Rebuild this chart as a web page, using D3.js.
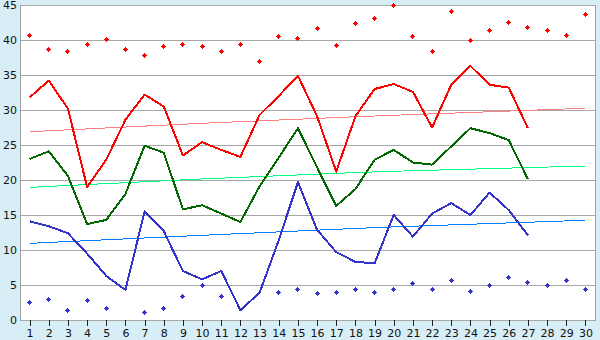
<!DOCTYPE html>
<html>
<head>
<meta charset="utf-8">
<script src="https://cdn.jsdelivr.net/npm/d3@7/dist/d3.min.js"></script>
<style>
  html, body { margin: 0; padding: 0; background: #d8eef6; }
  svg { display: block; }
  .axis text { font-family: "DejaVu Sans", Verdana, sans-serif; font-size: 11px; fill: #111; }
</style>
</head>
<body>
<svg id="chart" width="600" height="340"></svg>
<script>
// Category labels along the bottom axis
const categories = [1, 2, 3, 4, 5, 6, 7, 8, 9, 10, 11, 12, 13, 14, 15,
                    16, 17, 18, 19, 20, 21, 22, 23, 24, 25, 26, 27, 28, 29, 30];
const yTicks = [0, 5, 10, 15, 20, 25, 30, 35, 40, 45];

// Line series (days 1–27)
const redLine   = [31.8, 34.2, 30.2, 19.0, 22.9, 28.6, 32.2, 30.5, 23.5, 25.4, 24.3, 23.3, 29.3, 32.0,
                   34.9, 29.1, 21.2, 29.1, 33.0, 33.7, 32.6, 27.5, 33.6, 36.3, 33.6, 33.2, 27.4];
const greenLine = [23.0, 24.1, 20.6, 13.7, 14.3, 18.0, 24.9, 23.9, 15.8, 16.4, 15.2, 14.0, 19.1, 23.2,
                   27.4, 21.8, 16.3, 18.7, 22.9, 24.3, 22.5, 22.2, 24.8, 27.4, 26.7, 25.7, 20.1];
const blueLine  = [14.1, 13.4, 12.4, 9.5, 6.3, 4.3, 15.5, 12.7, 7.0, 5.8, 7.0, 1.4, 3.9, 11.4,
                   19.7, 12.9, 9.7, 8.3, 8.1, 15.0, 11.9, 15.2, 16.7, 15.0, 18.2, 15.7, 12.1];

// Point series (days 1–30, null = no reading)
const redPoints  = [40.7, 38.7, 38.4, 39.4, 40.1, 38.7, 37.8, 39.0, 39.4, 39.0, 38.4, 39.4, 37.0, 40.5, 40.2,
                    41.7, 39.2, 42.4, 43.0, 45.0, 40.5, 38.4, 44.1, 40.0, 41.4, 42.5, 41.8, 41.4, 40.7, 43.7];
const bluePoints = [2.5, 3.0, 1.3, 2.8, 1.7, null, 1.1, 1.7, 3.4, 5.0, 3.4, null, null, 4.0, 4.4,
                    3.8, 4.0, 4.4, 4.0, 4.4, 5.2, 4.4, 5.7, 4.1, 5.0, 6.1, 5.4, 5.0, 5.7, 4.4];

// Trend curves, sampled at a few days
const trendDays  = [1, 10, 20, 30];
const redTrend   = [26.9, 28.1, 29.25, 30.25];
const greenTrend = [18.95, 20.15, 21.25, 22.0];
const blueTrend  = [10.95, 12.1, 13.3, 14.25];

const plotLeft = 20, plotRight = 595, plotTop = 5, plotBottom = 320;
const svg = d3.select("#chart");

const x = d3.scalePoint().domain(categories).range([plotLeft, plotRight]).padding(0.5);
const y = d3.scaleLinear().domain([0, 45]).range([plotBottom, plotTop]);

// plot area
svg.append("rect")
  .attr("x", plotLeft).attr("y", plotTop)
  .attr("width", plotRight - plotLeft).attr("height", plotBottom - plotTop)
  .attr("fill", "#fff").attr("stroke", "#a0a0a0")
  .attr("shape-rendering", "crispEdges");

// y axis with gridlines
const gy = svg.append("g").attr("class", "axis")
  .attr("transform", `translate(${plotLeft},0)`)
  .call(d3.axisLeft(y).tickValues(yTicks).tickSize(-(plotRight - plotLeft)).tickPadding(3));
gy.select(".domain").remove();
gy.selectAll(".tick line").attr("stroke", "#a8a8a8").attr("shape-rendering", "crispEdges");

// x axis
const gx = svg.append("g").attr("class", "axis")
  .attr("transform", `translate(0,${plotBottom})`)
  .call(d3.axisBottom(x).tickSize(6).tickSizeOuter(0).tickPadding(3));
gx.select(".domain").remove();
gx.selectAll(".tick line").attr("stroke", "#222").attr("shape-rendering", "crispEdges");

// left axis line
svg.append("line")
  .attr("x1", plotLeft).attr("x2", plotLeft).attr("y1", plotTop).attr("y2", plotBottom)
  .attr("stroke", "#a0a0a0").attr("shape-rendering", "crispEdges");

// trend curves
const trendGen = d3.line()
  .x((d, i) => x(trendDays[i]))
  .y(d => y(d))
  .curve(d3.curveNatural);
[[redTrend, "#ff8080"], [greenTrend, "#00ff80"], [blueTrend, "#0080ff"]].forEach(([vals, col]) => {
  svg.append("path").datum(vals)
    .attr("d", trendGen)
    .attr("fill", "none").attr("stroke", col).attr("stroke-width", 1)
    .attr("shape-rendering", "crispEdges");
});

// main lines
const lineGen = d3.line()
  .x((d, i) => x(categories[i]))
  .y(d => y(d));
[[redLine, "#ff0000"], [greenLine, "#006600"], [blueLine, "#3333cc"]].forEach(([vals, col]) => {
  svg.append("path").datum(vals)
    .attr("d", lineGen)
    .attr("fill", "none").attr("stroke", col).attr("stroke-width", 2)
    .attr("stroke-linejoin", "round")
    .attr("shape-rendering", "crispEdges");
});

// small pixel-style cross marker: 3x3 core with 1px arms
const crossMarker = {
  draw(ctx) {
    const pts = [[-0.5,-2.5],[0.5,-2.5],[0.5,-1.5],[1.5,-1.5],[1.5,-0.5],[2.5,-0.5],[2.5,0.5],
                 [1.5,0.5],[1.5,1.5],[0.5,1.5],[0.5,2.5],[-0.5,2.5],[-0.5,1.5],[-1.5,1.5],
                 [-1.5,0.5],[-2.5,0.5],[-2.5,-0.5],[-1.5,-0.5],[-1.5,-1.5],[-0.5,-1.5]];
    ctx.moveTo(pts[0][0], pts[0][1]);
    for (let i = 1; i < pts.length; i++) ctx.lineTo(pts[i][0], pts[i][1]);
    ctx.closePath();
  }
};
const marker = d3.symbol().type(crossMarker);
[[redPoints, "#ff0000"], [bluePoints, "#3333cc"]].forEach(([vals, col]) => {
  svg.append("g").selectAll("path")
    .data(vals.map((v, i) => ({ c: categories[i], v })).filter(d => d.v != null))
    .join("path")
    .attr("d", marker)
    .attr("transform", d => `translate(${Math.floor(x(d.c)) + 0.5},${Math.floor(y(d.v)) + 0.5})`)
    .attr("fill", col)
    .attr("shape-rendering", "crispEdges");
});
</script>
</body>
</html>
